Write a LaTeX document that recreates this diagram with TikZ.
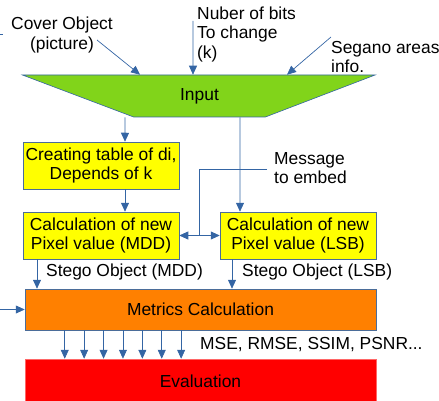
\documentclass[tikz,border=0pt]{standalone}
\usepackage{fontspec}
\setmainfont{Liberation Sans}
\usetikzlibrary{positioning,shapes.geometric,arrows.meta,calc}
\definecolor{lineblue}{RGB}{52,101,164}
\definecolor{lime}{RGB}{129,212,26}
\definecolor{boxyellow}{RGB}{255,255,0}
\definecolor{boxorange}{RGB}{255,128,0}
\definecolor{boxred}{RGB}{255,0,0}
\tikzset{
  arr/.style={draw=lineblue,line width=0.7pt,-{Triangle[length=9pt,width=8pt]}},
  wire/.style={draw=lineblue,line width=0.7pt},
  box/.style={draw=lineblue!70!gray,line width=0.5pt,inner sep=0pt,align=center,
    minimum width=156pt,minimum height=47pt,font=\fontsize{17.4}{19.5}\selectfont},
  wide/.style={box,minimum width=351pt},
  lbl/.style={inner sep=0pt,font=\fontsize{17.4}{19.5}\selectfont}
}
\begin{document}
\begin{tikzpicture}[x=1pt,y=-1pt]
\useasboundingbox (0,0) rectangle (439,401);
            % Blocks
\node[trapezium,shape border rotate=180,trapezium stretches=true,
  trapezium left angle=25.8,trapezium right angle=25.5,
  minimum width=353pt,minimum height=42pt,inner sep=0pt,
  fill=lime,draw=lineblue,line width=0.6pt,
  font=\fontsize{17.4}{19.5}\selectfont] (in) at (199.5,96) {Input};
\node[box,fill=boxyellow] (tab) at (101,165.5) {Creating table of di,\\Depends of k};
\node[box,fill=boxyellow] (mdd) at (101,235.5) {Calculation of new\\Pixel value (MDD)};
\node[box,fill=boxyellow] (lsb) at (298,235.5) {Calculation of new\\Pixel value (LSB)};
\node[wide,fill=boxorange,minimum height=41pt] (met) at (200.5,309.5) {Metrics Calculation};
\node[wide,fill=boxred,draw=boxred!60,minimum height=44pt] (eva) at (200.5,381) {Evaluation};
            % Labels
\node[lbl,align=center] (cover) at (62,35) {Cover Object\\(picture)};
\node[lbl,align=left,anchor=west] (bits) at (197,34) {Nuber of bits\\To change\\(k)};
\node[lbl,align=left,anchor=west] (areas) at (331,57) {Segano areas\\info.};
\node[lbl,align=left,anchor=west] (msg) at (274,168) {Message\\to embed};
\node[lbl,anchor=west] (smdd) at (46,272) {Stego Object (MDD)};
\node[lbl,anchor=west] (slsb) at (242,272) {Stego Object (LSB)};
\node[lbl,anchor=west] (mets) at (200,345) {MSE, RMSE, SSIM, PSNR...};
\coordinate (c1) at (97,40);
\coordinate (b1) at (193,21);
\coordinate (a1) at (331,37);
\coordinate (l1) at (0,34);
\coordinate (l2) at (0,309.5);
\coordinate (m) at ($(mdd.east)!0.5!(lsb.west)$);
            % Inputs
\draw[arr] (c1) -- ([xshift=-59.5pt]in.north);
\draw[arr] (b1) -- ([xshift=-6.5pt]in.north);
\draw[arr] (a1) -- ([xshift=87.5pt]in.north);
\draw[wire] (l1) -- ++(3,0);
            % Flow
\draw[arr] ([xshift=-74.5pt]in.south) -- ([xshift=24pt]tab.north);
\draw[arr] ([xshift=40.5pt]in.south) -- ([xshift=-58pt]lsb.north);
\draw[arr] ([xshift=24pt]tab.south) -- ([xshift=24pt]mdd.north);
\draw[wire] ([xshift=-7pt,yshift=-1pt]msg.west) -| (m);
\draw[arr] (m) -- (mdd.east);
\draw[arr] (m) -- (lsb.west);
\draw[arr] ([xshift=-64pt]mdd.south) -- ([xshift=-163.5pt]met.north);
\draw[arr] ([xshift=-66pt]lsb.south) -- ([xshift=31.5pt]met.north);
\draw[arr] (l2) -- (met.west);
\foreach \i in {0,...,6}
  \draw[arr] ([xshift=40pt+19.4pt*\i]met.south west) -- ([xshift=40pt+19.4pt*\i]eva.north west);
\end{tikzpicture}
\end{document}
